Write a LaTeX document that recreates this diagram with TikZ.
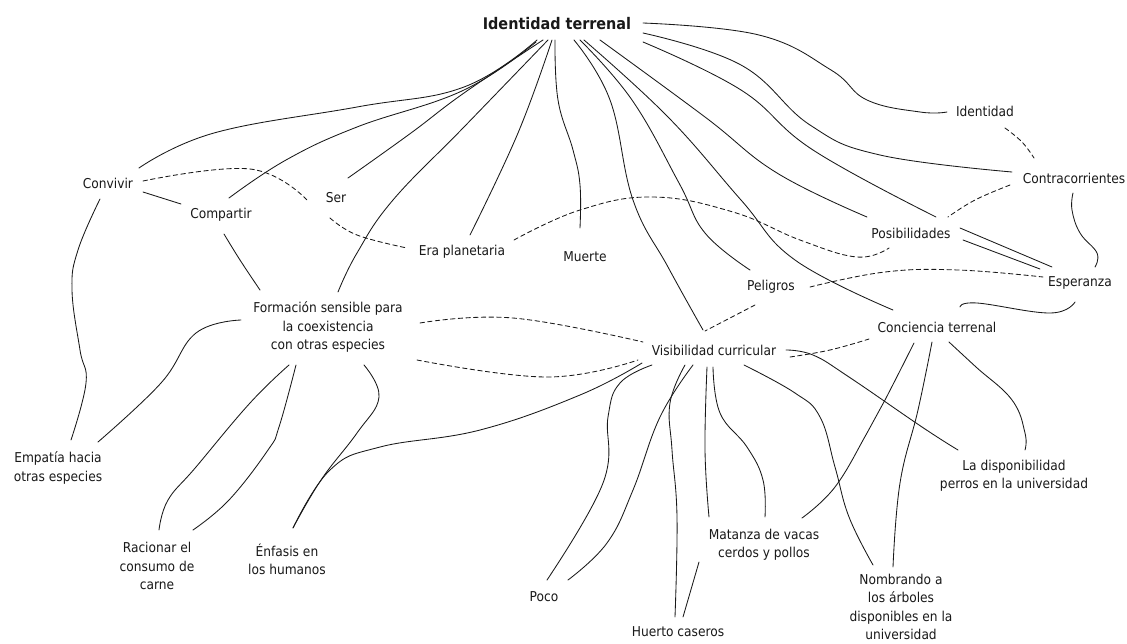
\documentclass[tikz,border=0pt]{standalone}
\usepackage{fontspec}
\setmainfont{DejaVu Sans Condensed}
\begin{document}
\begin{tikzpicture}[x=1pt,y=-1pt,
  lbl/.style={inner sep=0pt, align=center, font=\fontsize{13.6}{18.3}\selectfont, text=black!90},
  ttl/.style={lbl, font=\fontsize{16}{19}\selectfont\bfseries},
  link/.style={line width=0.85pt, black!90, line cap=round},
  dlink/.style={link, dash pattern=on 4.5pt off 3.2pt}]
\useasboundingbox (0,0) rectangle (1127,643);

% concepts
\node[ttl] (t) at (557,24) {Identidad terrenal};
\node[lbl] (idn) at (985,111) {Identidad};
\node[lbl] (contra) at (1074,178) {Contracorrientes};
\node[lbl] (posib) at (911,233) {Posibilidades};
\node[lbl] (esper) at (1080,283) {Esperanza};
\node[lbl] (pelig) at (771,287) {Peligros};
\node[lbl] (muerte) at (585,257) {Muerte};
\node[lbl] (conc) at (937,327) {Conciencia terrenal};
\node[lbl] (vis) at (714,350) {Visibilidad curricular};
\node[lbl] (mat) at (764,545) {Matanza de vacas\\cerdos y pollos};
\node[lbl] (nomb) at (901,607) {Nombrando a\\los árboles\\disponibles en la\\universidad};
\node[lbl] (ladisp) at (1014,476) {La disponibilidad\\perros en la universidad};
\node[lbl] (huerto) at (678,632) {Huerto caseros};
\node[lbl] (poco) at (544,597) {Poco};
\node[lbl] (conv) at (108,183) {Convivir};
\node[lbl] (comp) at (221,215) {Compartir};
\node[lbl] (ser) at (336,198) {Ser};
\node[lbl] (era) at (462,252) {Era planetaria};
\node[lbl] (form) at (328,327) {Formación sensible para\\la coexistencia\\con otras especies};
\node[lbl] (emp) at (58,468) {Empatía hacia\\otras especies};
\node[lbl] (rac) at (157,566) {Racionar el\\consumo de\\carne};
\node[lbl] (enf) at (287,559) {Énfasis en\\los humanos};

% branches leaving the title
\draw[link] plot[smooth,tension=.7] coordinates {([shift={(-20,16)}]t.center) (464,87) (357,107) (214,133) ([shift={(31,-15)}]conv.center)};
\draw[link] plot[smooth,tension=.7] coordinates {([shift={(-21,18)}]t.center) (464,90) (357,127) (286,160) ([shift={(8,-17)}]comp.center)};
\draw[link] plot[smooth,tension=.7] coordinates {([shift={(-14,16)}]t.center) (464,93) (411,133) ([shift={(12,-20)}]ser.center)};
\draw[link] plot[smooth,tension=.7] coordinates {([shift={(-9,16)}]t.center) (464,127) (393,200) (357,253) ([shift={(10,-35)}]form.center)};
\draw[link] plot[smooth,tension=.7] coordinates {([shift={(-5,16)}]t.center) (518,133) ([shift={(8,-17)}]era.center)};
\draw[link] plot[smooth,tension=.7] coordinates {([shift={(-2,16)}]t.center) (558,100) (573,150) (580,185) ([shift={(-5,-29)}]muerte.center)};
\draw[link] plot[smooth,tension=.7] coordinates {([shift={(17,16)}]t.center) (610,100) (633,200) (668,267) ([shift={(-11,-20)}]vis.center)};
\draw[link] plot[smooth,tension=.7] coordinates {([shift={(23,16)}]t.center) (632,100) (679,183) (705,233) ([shift={(-21,-17)}]pelig.center)};
\draw[link] plot[smooth,tension=.7] coordinates {([shift={(27,16)}]t.center) (668,117) (741,200) (795,260) ([shift={(-44,-17)}]conc.center)};
\draw[link] plot[smooth,tension=.7] coordinates {([shift={(43,16)}]t.center) (705,117) (777,173) ([shift={(-44,-16)}]posib.center)};
\draw[link] plot[smooth,tension=.7] coordinates {([shift={(86,18)}]t.center) (741,90) (813,150) ([shift={(25,-16)}]posib.center)};
\draw[link] plot[smooth,tension=.7] coordinates {([shift={(86,9)}]t.center) (741,65) (810,125) (880,155) ([shift={(-62,-6)}]contra.center)};
\draw[link] plot[smooth,tension=.7] coordinates {([shift={(86,-1)}]t.center) (759,35) (831,70) (867,100) (920,112) ([shift={(-38,1)}]idn.center)};

% dashed relations
\draw[dlink] plot[smooth,tension=.7] coordinates {([shift={(20,17)}]idn.center) (1022,142) ([shift={(-40,-20)}]contra.center)};
\draw[dlink] plot[smooth,tension=.7] coordinates {([shift={(-64,7)}]contra.center) (975,200) ([shift={(37,-16)}]posib.center)};
\draw[dlink] plot[smooth,tension=.7] coordinates {([shift={(52,-12)}]era.center) (580,210) (653,197) (733,212) (800,240) (857,257) ([shift={(-22,15)}]posib.center)};
\draw[dlink] plot[smooth,tension=.7] coordinates {([shift={(35,-2)}]conv.center) (250,169) ([shift={(-29,2)}]ser.center)};
\draw[dlink] plot[smooth,tension=.7] coordinates {([shift={(-6,20)}]ser.center) (357,235) ([shift={(-55,-4)}]era.center)};
\draw[dlink] plot[smooth,tension=.7] coordinates {([shift={(39,0)}]pelig.center) (885,272) (958,270) ([shift={(-37,-6)}]esper.center)};
\draw[dlink] ([shift={(-16,18)}]pelig.center) -- ([shift={(-9,-19)}]vis.center);
\draw[dlink] plot[smooth,tension=.7] coordinates {([shift={(76,7)}]vis.center) (830,350) ([shift={(-68,12)}]conc.center)};
\draw[dlink] plot[smooth,tension=.7] coordinates {([shift={(92,-4)}]form.center) (513,318) ([shift={(-71,-8)}]vis.center)};
\draw[dlink] plot[smooth,tension=.7] coordinates {([shift={(89,33)}]form.center) (547,377) ([shift={(-76,10)}]vis.center)};

% branches of Visibilidad curricular
\draw[link] plot[smooth,tension=.7] coordinates {([shift={(-72,13)}]vis.center) (580,395) (480,430) (380,447) (330,470) ([shift={(6,-31)}]enf.center)};
\draw[link] plot[smooth,tension=.7] coordinates {([shift={(-62,15)}]vis.center) (620,383) (608,417) (603,483) ([shift={(3,-17)}]poco.center)};
\draw[link] plot[smooth,tension=.7] coordinates {([shift={(-21,15)}]vis.center) (660,417) (633,490) (607,543) ([shift={(24,-17)}]poco.center)};
\draw[link] plot[smooth,tension=.7] coordinates {([shift={(-29,15)}]vis.center) (670,403) (672,450) (677,517) ([shift={(-3,-15)}]huerto.center)};
\draw[link] ([shift={(5,-15)}]huerto.center) -- ([shift={(-65,17)}]mat.center);
\draw[link] plot[smooth,tension=.7] coordinates {([shift={(-7,17)}]vis.center) (705,450) ([shift={(-55,-28)}]mat.center)};
\draw[link] plot[smooth,tension=.7] coordinates {([shift={(-1,17)}]vis.center) (720,413) (747,447) (763,480) ([shift={(1,-28)}]mat.center)};
\draw[link] plot[smooth,tension=.7] coordinates {([shift={(30,15)}]vis.center) (795,393) (820,417) (835,467) (849,517) ([shift={(-28,-42)}]nomb.center)};
\draw[link] plot[smooth,tension=.7] coordinates {([shift={(72,0)}]vis.center) (813,355) (849,377) (922,427) ([shift={(-56,-26)}]ladisp.center)};

% branches of Conciencia terrenal
\draw[link] plot[smooth,tension=.7] coordinates {([shift={(-23,16)}]conc.center) (885,400) (867,433) (835,487) ([shift={(38,-27)}]mat.center)};
\draw[link] plot[smooth,tension=.7] coordinates {([shift={(-5,15)}]conc.center) (918,410) (900,483) ([shift={(-8,-40)}]nomb.center)};
\draw[link] plot[smooth,tension=.7] coordinates {([shift={(12,15)}]conc.center) (976,367) (1012,400) (1025,433) ([shift={(11,-26)}]ladisp.center)};
\draw[link] plot[smooth,tension=.7] coordinates {([shift={(23,-20)}]conc.center) (977,303) (1050,313) ([shift={(-5,19)}]esper.center)};

% links around Esperanza
\draw[link] plot[smooth,tension=.7] coordinates {([shift={(-1,15)}]contra.center) (1072,210) (1080,233) (1097,253) ([shift={(15,-16)}]esper.center)};
\draw[link] ([shift={(49,-5)}]posib.center) -- ([shift={(-28,-16)}]esper.center);
\draw[link] ([shift={(52,7)}]posib.center) -- ([shift={(-40,-14)}]esper.center);

% branches of Formación sensible
\draw[link] plot[smooth,tension=.7] coordinates {([shift={(-87,-7)}]form.center) (196,333) (161,383) ([shift={(40,-26)}]emp.center)};
\draw[link] plot[smooth,tension=.7] coordinates {([shift={(-39,38)}]form.center) (250,403) (196,467) (168,500) ([shift={(2,-36)}]rac.center)};
\draw[link] plot[smooth,tension=.7] coordinates {([shift={(-32,38)}]form.center) (279,427) (268,450) (229,500) ([shift={(36,-36)}]rac.center)};
\draw[link] plot[smooth,tension=.7] coordinates {([shift={(36,38)}]form.center) (379,397) (357,433) (321,480) ([shift={(6,-31)}]enf.center)};

% left side
\draw[link] plot[smooth,tension=.7] coordinates {([shift={(3,19)}]comp.center) (240,260) ([shift={(-68,-37)}]form.center)};
\draw[link] ([shift={(35,9)}]conv.center) -- ([shift={(-40,-11)}]comp.center);
\draw[link] plot[smooth,tension=.7] coordinates {([shift={(-8,16)}]conv.center) (78,250) (72,290) (80,350) (86,383) ([shift={(13,-28)}]emp.center)};
\end{tikzpicture}
\end{document}
